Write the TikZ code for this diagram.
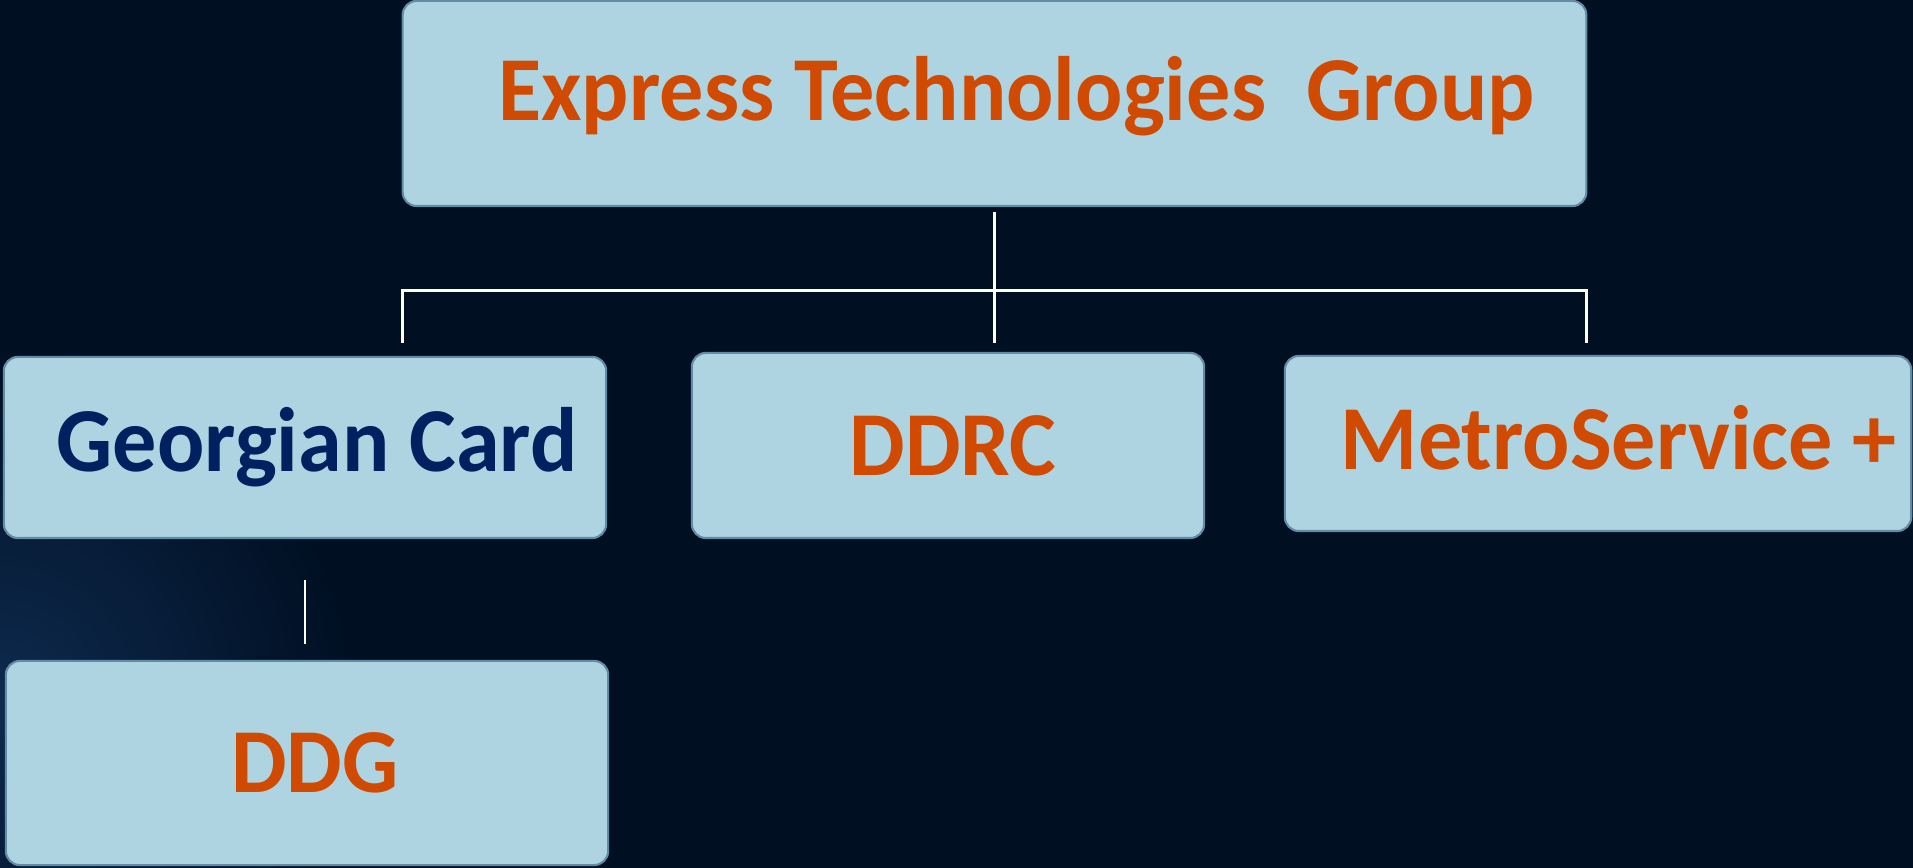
\documentclass[tikz,border=0pt]{standalone}
\usepackage{fontspec}
\setmainfont{Carlito}[FakeStretch=0.965]
\definecolor{bgnavy}{RGB}{0,15,34}
\definecolor{bgglow}{RGB}{14,42,78}
\definecolor{boxfill}{RGB}{173,212,224}
\definecolor{boxline}{RGB}{98,140,165}
\definecolor{orgorange}{RGB}{208,74,2}
\definecolor{orgnavy}{RGB}{0,32,96}

\tikzset{
	unitbox/.style={fill=boxfill, draw=boxline, line width=0.6pt, rounded corners=0.14cm,
		inner sep=0pt, outer sep=0pt, font=\fontsize{26}{30}\selectfont\bfseries, text=orgorange},
	wire/.style={draw=white, line width=0.8pt}
}

\begin{document}
\begin{tikzpicture}[x=0.01cm, y=-0.01cm]
		% background
		\useasboundingbox (0,0) rectangle (1913,868);
		\fill[bgnavy] (0,0) rectangle (1913,868);
		\begin{scope}
			\clip (0,0) rectangle (1913,868);
			\shade[inner color=bgglow, outer color=bgnavy] (0,700) circle (3.6cm);
		\end{scope}

		% boxes
		\node[unitbox, minimum width=11.83cm, minimum height=2.05cm, text depth=0.30cm] (etg) at (994.5,103.5) {\hspace*{0.44cm}Express Technologies~~Group};
		\node[unitbox, minimum width=6.02cm, minimum height=1.81cm, text=orgnavy] (gc) at (305,447.5) {\hspace*{0.24cm}Georgian Card};
		\node[unitbox, minimum width=5.12cm, minimum height=1.85cm] (ddrc) at (948,445.5) {\hspace*{0.1cm}DDRC};
		\node[unitbox, minimum width=6.26cm, minimum height=1.75cm, text depth=0.12cm] (metro) at (1598,443.5) {\hspace*{0.42cm}MetroService +};
		\node[unitbox, minimum width=6.02cm, minimum height=2.04cm] (ddg) at (307,763) {\hspace*{0.16cm}DDG};

		% connectors
		\draw[wire] ([yshift=-0.06cm]etg.south) -- ([yshift=-1.37cm]etg.south);
		\draw[wire] ([yshift=-1.37cm]etg.south west) -- ([yshift=-0.84cm]etg.south west)
			-- ([yshift=-0.84cm]etg.south east) -- ([yshift=-1.37cm]etg.south east);
		\draw[wire, line width=0.5pt] ([yshift=-0.42cm]gc.south) -- ([yshift=0.17cm]gc.south |- ddg.north);
\end{tikzpicture}
\end{document}
